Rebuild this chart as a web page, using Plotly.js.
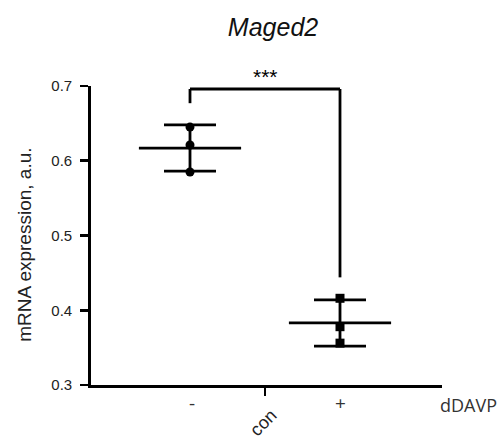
<!DOCTYPE html>
<html><head><meta charset="utf-8">
<script src="https://cdn.plot.ly/plotly-3.0.1.min.js"></script>
<style>html,body{margin:0;padding:0;background:#fff}#plot{width:501px;height:441px}</style>
</head><body><div id="plot"></div>
<script>
// Data
const groupLabels = ["-", "+"];
const treatmentName = "dDAVP";
const categoryLabel = "con";
const conValues = [0.645, 0.621, 0.585];
const ddavpValues = [0.416, 0.378, 0.356];
const groupMeans = [0.617, 0.383];
const groupSD = [0.031, 0.031];
const yTicks = [0.3, 0.4, 0.5, 0.6, 0.7];
const sigLabel = "***";

const xPos = [1, 2];
const black = "#000";

function meanTrace(i) {
  return {
    x: [xPos[i]], y: [groupMeans[i]], type: "scatter", mode: "markers",
    marker: {symbol: "line-ew-open", size: 73, color: black, line: {color: black, width: 2.8}},
    error_y: {type: "data", array: [groupSD[i]], visible: true, color: black, thickness: 2.8, width: 26},
    cliponaxis: false, hoverinfo: "skip"
  };
}

const traces = [
  meanTrace(0),
  meanTrace(1),
  {
    x: conValues.map(() => xPos[0]), y: conValues, type: "scatter", mode: "markers",
    marker: {symbol: "circle", size: 9, color: black}, cliponaxis: false
  },
  {
    x: ddavpValues.map(() => xPos[1]), y: ddavpValues, type: "scatter", mode: "markers",
    marker: {symbol: "square", size: 9, color: black}, cliponaxis: false
  }
];

const bracketTop = 0.696;
const shapes = [
  {type: "line", xref: "x", yref: "y", x0: xPos[0], x1: xPos[0], y0: 0.677, y1: bracketTop, line: {color: black, width: 2.8}},
  {type: "line", xref: "x", yref: "y", x0: xPos[0], x1: xPos[1], y0: bracketTop, y1: bracketTop, line: {color: black, width: 2.8}},
  {type: "line", xref: "x", yref: "y", x0: xPos[1], x1: xPos[1], y0: 0.444, y1: bracketTop, line: {color: black, width: 2.8}}
];

const labelFont = {family: "Open Sans, sans-serif", size: 19, color: "#333"};
const annotations = [
  {x: (xPos[0] + xPos[1]) / 2, y: bracketTop, xref: "x", yref: "y", text: sigLabel, showarrow: false,
   yanchor: "middle", yshift: 12, font: {family: "Liberation Sans, Arial", size: 21, color: black}},
  {x: xPos[0], y: 0, xref: "x", yref: "paper", text: groupLabels[0], showarrow: false,
   xshift: 2, yanchor: "middle", yshift: -18, font: labelFont},
  {x: xPos[1], y: 0, xref: "x", yref: "paper", text: groupLabels[1], showarrow: false,
   yanchor: "middle", yshift: -18, font: labelFont},
  {x: 1.0, y: 0, xref: "paper", yref: "paper", text: treatmentName, showarrow: false,
   xanchor: "left", yanchor: "middle", xshift: -4, yshift: -20, font: {family: "Open Sans, sans-serif", size: 18, color: "#333"}},
  {x: (xPos[0] + xPos[1]) / 2, y: 0, xref: "x", yref: "paper", text: categoryLabel, showarrow: false,
   textangle: -45, xanchor: "center", yanchor: "middle", xshift: -2, yshift: -38,
   font: {family: "Liberation Sans, Arial", size: 18, color: "#222"}},
  {x: -0.19, y: 0.47, xref: "paper", yref: "paper", text: "mRNA expression, a.u.", showarrow: false,
   textangle: -90, xanchor: "center", yanchor: "middle",
   font: {family: "Liberation Sans, Arial", size: 19, color: "#222"}}
];

const layout = {
  width: 501, height: 441,
  margin: {l: 91, r: 59, t: 86, b: 56, pad: 0},
  paper_bgcolor: "#fff", plot_bgcolor: "#fff",
  showlegend: false,
  title: {text: "<i>Maged2</i>", x: 0.545, xref: "container", xanchor: "center",
          y: 1 - 27 / 441, yref: "container", yanchor: "middle",
          font: {family: "Liberation Sans, Arial", size: 25, color: "#111"}},
  xaxis: {range: [0.34, 2.68], showgrid: false, zeroline: false, showline: true,
          linecolor: black, linewidth: 2.8, ticks: "outside", ticklen: 8, tickwidth: 2.8, tickcolor: black,
          tickvals: [(xPos[0] + xPos[1]) / 2], ticktext: [""], fixedrange: true},
  yaxis: {range: [0.3, 0.7], showgrid: false, zeroline: false, showline: true,
          linecolor: black, linewidth: 2.8, ticks: "outside", ticklen: 8, tickwidth: 2.8, tickcolor: black,
          tickvals: yTicks, ticktext: yTicks.map(v => v.toFixed(1)), ticklabelstandoff: 5,
          tickfont: {family: "Liberation Sans, Arial", size: 15, color: "#222"}},
  shapes: shapes,
  annotations: annotations
};

Plotly.newPlot("plot", traces, layout, {staticPlot: true});
</script></body></html>
